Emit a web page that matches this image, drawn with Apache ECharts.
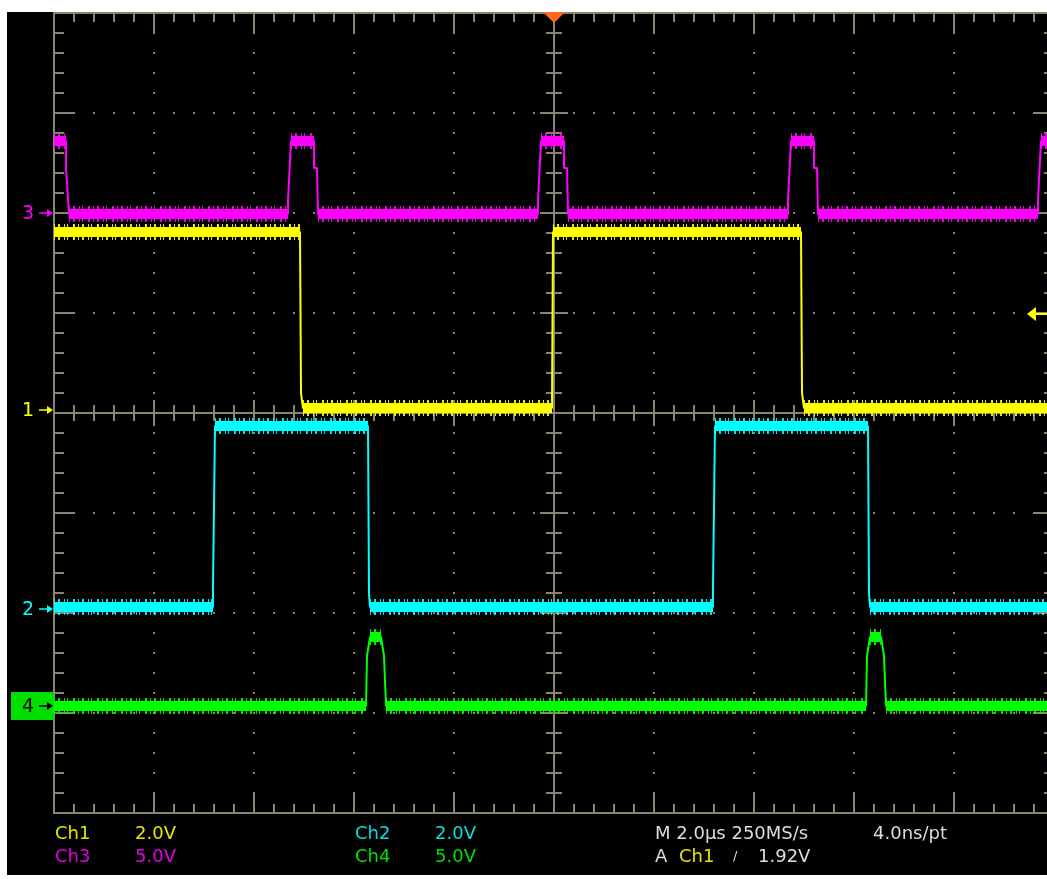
<!DOCTYPE html>
<html><head><meta charset="utf-8">
<script src="https://cdn.jsdelivr.net/npm/echarts@6/dist/echarts.min.js"></script>
<style>html,body{margin:0;padding:0;background:#fff;overflow:hidden;}#c{width:1064px;height:879px;}</style>
</head><body><div id="c"></div>
<script>
const ch1Trace = [[-10,3.56],[-5.08,3.56],[-5.06,0.34],[-5.03,0.34],[-5.02,0.04],[-0.04,0.04],[-0.02,3.56],[4.94,3.56],[4.96,0.34],[4.99,0.34],[5.0,0.04],[10.2,0.04]];
const ch2Trace = [[-10,0.04],[-6.82,0.04],[-6.82,0.44],[-6.79,0.44],[-6.78,3.66],[-3.72,3.66],[-3.7,0.3],[-3.68,0.04],[3.18,0.04],[3.18,0.44],[3.21,0.44],[3.22,3.66],[6.28,3.66],[6.3,0.3],[6.32,0.04],[10.2,0.04]];
const ch3Trace = [[-10,3.6],[-9.76,3.6],[-9.76,2.25],[-9.72,2.25],[-9.7,-0.05],
  [-5.32,-0.05],[-5.32,0.65],[-5.28,0.65],[-5.26,3.6],[-4.8,3.6],[-4.8,2.25],[-4.74,2.25],[-4.72,-0.05],
  [-0.32,-0.05],[-0.32,0.65],[-0.28,0.65],[-0.26,3.6],[0.2,3.6],[0.2,2.25],[0.26,2.25],[0.28,-0.05],
  [4.68,-0.05],[4.68,0.65],[4.72,0.65],[4.74,3.6],[5.2,3.6],[5.2,2.25],[5.26,2.25],[5.28,-0.05],
  [9.68,-0.05],[9.68,0.65],[9.72,0.65],[9.74,3.6],[10.2,3.6]];
const ch4Trace = [[-10,0],[-3.76,0],[-3.74,2.5],[-3.68,3.45],[-3.46,3.45],[-3.4,2.5],[-3.36,0],[6.24,0],[6.26,2.5],[6.32,3.45],[6.54,3.45],[6.6,2.5],[6.64,0],[10.2,0]];

const chNames  = ['Ch1','Ch2','Ch3','Ch4'];
const chLabels = ['1','2','3','4'];
const chVoltsPerDiv = [2,2,5,5];
const chOffsetDiv = [0.03,-1.96,2.0,-2.93];
const timePerDivUs = 2;
const triggerLevelV = 1.92;
const readoutRow1 = ['Ch1','2.0V','Ch2','2.0V','M 2.0µs 250MS/s','4.0ns/pt'];
const readoutRow2 = ['Ch3','5.0V','Ch4','5.0V','A','Ch1','/','1.92V'];

// ---- styles ----
const chColors = ['#ffff00','#00ffff','#ff00ff','#00ff00'];
const textColors = ['#e6e600','#00e0e0','#e600e6','#00e000'];
const GRID_COL = '#8a8470';
const traces = [ch1Trace, ch2Trace, ch3Trace, ch4Trace];

const X_MIN = -5*timePerDivUs, X_MAX = 5*timePerDivUs, Y_MIN = -4, Y_MAX = 4;

function toDiv(trace, i){ return trace.map(p => [p[0], chOffsetDiv[i] + p[1]/chVoltsPerDiv[i]]); }
function flatSegments(trace, i){
  const out = [];
  for (let k=0;k<trace.length-1;k++){
    const a=trace[k], b=trace[k+1];
    if (a[1]===b[1] && b[0]-a[0] > 0.1){
      out.push([a[0], chOffsetDiv[i]+a[1]/chVoltsPerDiv[i]]);
      out.push([b[0], chOffsetDiv[i]+b[1]/chVoltsPerDiv[i]]);
      out.push([(a[0]+b[0])/2, '-']);
    }
  }
  return out;
}

function graticule(params, api){
  const ch=[];
  const P=(x,y)=>api.coord([x,y]);
  const L=(x1,y1,x2,y2)=>ch.push({type:'line',shape:{x1,y1,x2,y2},style:{stroke:GRID_COL,lineWidth:2}});
  const tl=P(X_MIN,Y_MAX), br=P(X_MAX,Y_MIN), c=P(0,0);
  const W=br[0]-tl[0], H=br[1]-tl[1];
  const sx=W/50, sy=H/40;
  for (let i=1;i<10;i++){ if(i===5) continue; const x=tl[0]+i*W/10;
    for (let j=1;j<40;j++){ ch.push({type:'rect',shape:{x:x-1,y:tl[1]+j*sy-1,width:2,height:2},style:{fill:GRID_COL}}); } }
  for (let j=1;j<8;j++){ if(j===4) continue; const y=tl[1]+j*H/8;
    for (let i=1;i<50;i++){ ch.push({type:'rect',shape:{x:tl[0]+i*sx-1,y:y-1,width:2,height:2},style:{fill:GRID_COL}}); } }
  ch.push({type:'rect',shape:{x:tl[0],y:tl[1],width:W,height:H},style:{stroke:GRID_COL,fill:null,lineWidth:2}});
  L(c[0],tl[1],c[0],br[1]); L(tl[0],c[1],br[0],c[1]);
  for (let k=1;k<50;k++){ const x=tl[0]+k*sx; const maj=k%5===0; const len=maj?20:9, h=maj?13:8;
    L(x,tl[1],x,tl[1]+len); L(x,br[1],x,br[1]-len); L(x,c[1]-h,x,c[1]+h); }
  for (let k=1;k<40;k++){ const y=tl[1]+k*sy; const maj=k%5===0; const len=maj?21:10, h=maj?14:8;
    L(tl[0],y,tl[0]+len,y); L(br[0],y,br[0]-len,y); L(c[0]-h,y,c[0]+h,y); }
  return {type:'group',children:ch};
}

function markers(params, api){
  const ch=[];
  const tl=api.coord([X_MIN,Y_MAX]);
  const x0=tl[0];
  for (let i=0;i<4;i++){
    const y=api.coord([0,chOffsetDiv[i]])[1];
    let fg=chColors[i];
    if (i===3){
      ch.push({type:'rect',shape:{x:11,y:y-14,width:x0-11,height:28},style:{fill:'#00e000'}});
      fg='#000';
    }
    ch.push({type:'text',x:34,y:y+1,style:{text:chLabels[i],fill:fg,font:'19px "DejaVu Sans"',align:'right',verticalAlign:'middle'}});
    ch.push({type:'line',shape:{x1:39,y1:y,x2:x0-4,y2:y},style:{stroke:fg,lineWidth:1.5}});
    ch.push({type:'polygon',shape:{points:[[x0-1,y],[x0-7,y-4],[x0-7,y+4]]},style:{fill:fg}});
  }
  const ty=api.coord([0,chOffsetDiv[0]+triggerLevelV/chVoltsPerDiv[0]])[1];
  ch.push({type:'polygon',shape:{points:[[1027,ty],[1036,ty-7],[1036,ty+7]]},style:{fill:chColors[0]}});
  ch.push({type:'line',shape:{x1:1034,y1:ty,x2:1050,y2:ty},style:{stroke:chColors[0],lineWidth:2}});
  const tx=api.coord([0,Y_MAX])[0];
  ch.push({type:'polygon',shape:{points:[[tx-11,12],[tx+11,12],[tx,23]]},style:{fill:'#ff6a1a'}});
  return {type:'group',children:ch};
}

const series = [
  {type:'custom',renderItem:graticule,data:[[0,0]],silent:true,z:1,clip:false},
];
const order=[2,0,1,3];
order.forEach(i=>{
  series.push({type:'line',data:flatSegments(traces[i],i),showSymbol:false,symbol:'none',connectNulls:false,z:3,
    lineStyle:{color:chColors[i],width:16,type:[1,3,2,4,1,2,1,5,2,3],opacity:0.9,cap:'butt'}});
  series.push({type:'line',data:flatSegments(traces[i],i),showSymbol:false,symbol:'none',connectNulls:false,z:3,
    lineStyle:{color:chColors[i],width:10,cap:'butt'}});
  series.push({type:'line',data:toDiv(traces[i],i),showSymbol:false,symbol:'none',z:3,
    lineStyle:{color:chColors[i],width:2}});
});
series.push({type:'custom',renderItem:markers,data:[[0,0]],silent:true,z:5,clip:false});

const FONT='18px "DejaVu Sans"';
const texts=[];
const row1Y=834, row2Y=857;
const r1x=[55,135,355,435,655,873];
const r1c=[textColors[0],textColors[0],textColors[1],textColors[1],'#dcdcdc','#dcdcdc'];
readoutRow1.forEach((t,k)=>texts.push({type:'text',x:r1x[k],y:row1Y,z:100,style:{text:t,fill:r1c[k],font:FONT,verticalAlign:'middle'}}));
const r2x=[55,135,355,435,655,679,733,758];
const r2c=[textColors[2],textColors[2],textColors[3],textColors[3],'#dcdcdc',textColors[0],'#dcdcdc','#dcdcdc'];
readoutRow2.forEach((t,k)=>texts.push({type:'text',x:r2x[k],y:row2Y,z:100,style:{text:t,fill:r2c[k],font:k===6?'13px "DejaVu Sans"':FONT,verticalAlign:'middle'}}));

const chart=echarts.init(document.getElementById('c'),null,{renderer:'canvas'});
chart.setOption({
  backgroundColor:'#ffffff',
  animation:false,
  grid:{left:54,top:13,width:1000,height:800,show:false},
  xAxis:{type:'value',min:X_MIN,max:X_MAX,interval:timePerDivUs,show:false},
  yAxis:{type:'value',min:Y_MIN,max:Y_MAX,interval:1,show:false},
  graphic:[{type:'rect',z:-10,shape:{x:7,y:12,width:1060,height:863},style:{fill:'#000'}}].concat(texts),
  series:series
});
</script></body></html>
